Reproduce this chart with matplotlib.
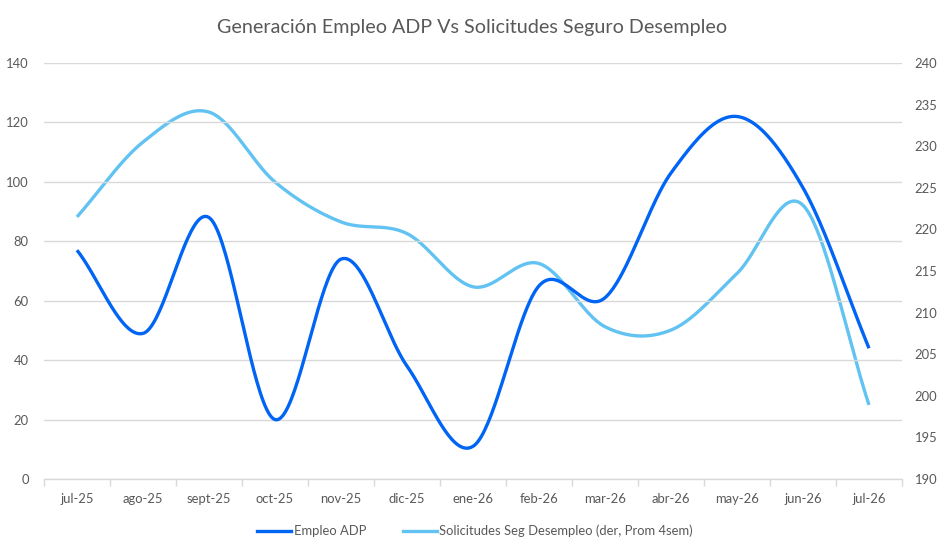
import numpy as np
import matplotlib
matplotlib.use("Agg")
import matplotlib.pyplot as plt
from matplotlib.lines import Line2D

months = ["jul-25", "ago-25", "sept-25", "oct-25", "nov-25", "dic-25", "ene-26",
          "feb-26", "mar-26", "abr-26", "may-26", "jun-26", "jul-26"]
empleo_adp = [77, 49, 88, 20, 74, 38, 11, 65, 61, 103, 122, 98, 44]
solicitudes = [221.5, 230.5, 234.1, 225.7, 220.9, 219.5, 213.1, 215.9, 208.3, 207.9, 214.7, 222.9, 198.9]

left_ticks = [0, 20, 40, 60, 80, 100, 120, 140]
right_ticks = [190, 195, 200, 205, 210, 215, 220, 225, 230, 235, 240]

title = "Generación Empleo ADP Vs Solicitudes Seguro Desempleo"
label_adp = "Empleo ADP"
label_sol = "Solicitudes Seg Desempleo (der, Prom 4sem)"

C_DARK = "#0064F5"
C_LIGHT = "#62C3F2"
C_TEXT = "#595959"
C_GRID = "#D9D9D9"

plt.rcParams['font.family'] = ['Lato', 'DejaVu Sans']


def smooth(y, n=40):
    """Excel-style smoothed line (Catmull-Rom through the data points)."""
    y = np.asarray(y, dtype=float)
    x = np.arange(len(y), dtype=float)
    xs, ys = [], []
    for i in range(len(y) - 1):
        p0 = i - 1 if i > 0 else i
        p3 = i + 2 if i + 2 < len(y) else i + 1
        m0x = (x[i + 1] - x[p0]) / 2.0 if i > 0 else (x[i + 1] - x[i])
        m1x = (x[p3] - x[i]) / 2.0 if i + 2 < len(y) else (x[i + 1] - x[i])
        m0y = (y[i + 1] - y[p0]) / 2.0 if i > 0 else (y[i + 1] - y[i])
        m1y = (y[p3] - y[i]) / 2.0 if i + 2 < len(y) else (y[i + 1] - y[i])
        t = np.linspace(0, 1, n, endpoint=(i == len(y) - 2))
        h00 = 2 * t**3 - 3 * t**2 + 1
        h10 = t**3 - 2 * t**2 + t
        h01 = -2 * t**3 + 3 * t**2
        h11 = t**3 - t**2
        xs.append(h00 * x[i] + h10 * m0x + h01 * x[i + 1] + h11 * m1x)
        ys.append(h00 * y[i] + h10 * m0y + h01 * y[i + 1] + h11 * m1y)
    return np.concatenate(xs), np.concatenate(ys)


fig = plt.figure(figsize=(9.46, 5.57), dpi=100)
ax = fig.add_axes([44 / 946, 1 - 479 / 557, (902 - 44) / 946, (479 - 63) / 557])
ax2 = ax.twinx()

n = len(months)
xa, ya = smooth(empleo_adp)
xs_, ys_ = smooth(solicitudes)

ax2.plot(xs_, ys_, color=C_LIGHT, lw=2.4, solid_capstyle='butt', zorder=2)
ax.plot(xa, ya, color=C_DARK, lw=2.4, solid_capstyle='butt', zorder=3)

ax.set_zorder(ax2.get_zorder() + 1)
ax.patch.set_visible(False)

ax.set_xlim(-0.5, n - 0.5)
ax.set_ylim(0, 140)
ax2.set_ylim(190, 240)
ax.set_yticks(left_ticks)
ax2.set_yticks(right_ticks)
ax.set_xticks(range(n))
ax.set_xticklabels(months)
ax.set_xticks(np.arange(-0.5, n, 1.0), minor=True)

ax.grid(axis='y', color=C_GRID, lw=1.0, zorder=0)
ax.set_axisbelow(True)

for a in (ax, ax2):
    for s in ("top", "left", "right"):
        a.spines[s].set_visible(False)
    a.spines["bottom"].set_visible(False)
ax.spines["bottom"].set_visible(True)
ax.spines["bottom"].set_color(C_GRID)
ax.spines["bottom"].set_linewidth(1.0)

FS = 9.4
ax.tick_params(axis='x', which='major', length=0, pad=10, labelsize=FS, labelcolor=C_TEXT)
ax.tick_params(axis='x', which='minor', length=5, width=1.0, color=C_GRID)
ax.tick_params(axis='y', length=0, pad=11, labelsize=FS, labelcolor=C_TEXT)
ax2.tick_params(axis='y', length=0, pad=9, labelsize=FS, labelcolor=C_TEXT)

fig.text(472 / 946, 1 - 28 / 557, title, ha='center', va='center', fontsize=14.2, color=C_TEXT)

handles = [Line2D([0], [0], color=C_DARK, lw=2.4), Line2D([0], [0], color=C_LIGHT, lw=2.4)]
fig.legend(handles, [label_adp, label_sol], loc='center', bbox_to_anchor=(475 / 946, 1 - 531 / 557),
           ncol=2, frameon=False, fontsize=FS, labelcolor=C_TEXT, handlelength=2.6,
           handletextpad=0.2, columnspacing=2.8)

fig.savefig("out.png", dpi=100)
